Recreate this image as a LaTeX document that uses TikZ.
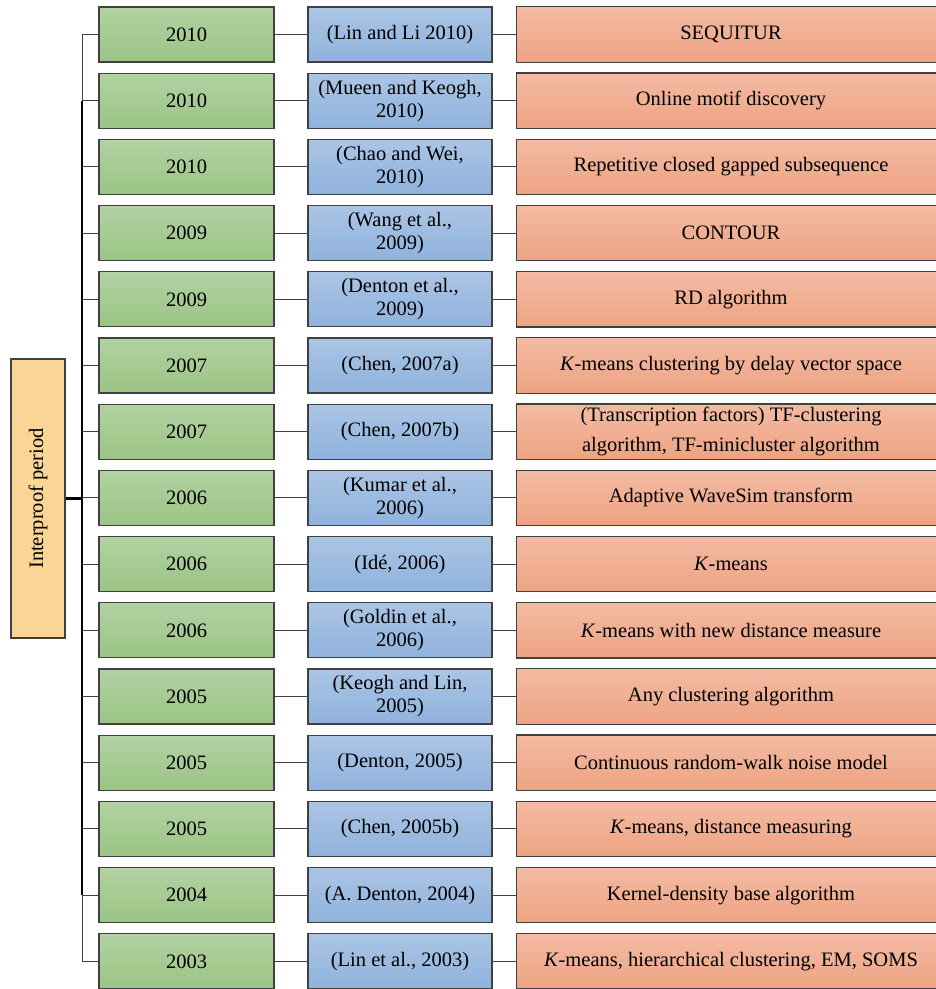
\documentclass[tikz,border=0pt]{standalone}
\usepackage{fontspec}
\setmainfont{Liberation Serif}
\usepackage{tikz}
\usetikzlibrary{backgrounds}
\definecolor{gtop}{RGB}{178,210,162}
\definecolor{gbot}{RGB}{155,196,133}
\definecolor{btop}{RGB}{171,197,229}
\definecolor{bbot}{RGB}{143,178,220}
\definecolor{otop}{RGB}{243,187,163}
\definecolor{obot}{RGB}{238,163,131}
\definecolor{lfill}{RGB}{250,214,150}
\definecolor{edge}{RGB}{64,64,64}

\begin{document}
\begin{tikzpicture}[x=1pt,y=-1pt,
    box/.style={draw=edge,line width=1.3pt,minimum height=55pt,inner sep=2pt,align=center},
    yr/.style={box,minimum width=175pt,top color=gtop,bottom color=gbot,font=\fontsize{20.5}{23}\selectfont},
    cite/.style={box,minimum width=184pt,top color=btop,bottom color=bbot,font=\fontsize{20.5}{23}\selectfont},
    meth/.style={minimum width=428pt,minimum height=55pt,inner sep=2pt,align=center,font=\fontsize{20.5}{30}\selectfont},
    methbox/.style={draw=edge,line width=1.3pt,top color=otop,bottom color=obot},
    branch/.style={draw=edge,line width=1pt},
    trunk/.style={draw=black,line width=1.6pt}]
    \useasboundingbox (0,0) rectangle (936,989);
        % period box on the left
        \node[box,fill=lfill,minimum width=279pt,minimum height=54pt,rotate=90,font=\fontsize{20.5}{23}\selectfont] (period) at (38,498.5) {Interproof period};
        % rows: year, reference, method
        \node[yr] (g1) at (186.5,34.5) {2010}; \node[cite] (b1) at (400,34.5) {(Lin and Li 2010)}; \node[meth] (o1) at (731,34.5) {SEQUITUR};
        \node[yr] (g2) at (186.5,100.7) {2010}; \node[cite] (b2) at (400,100.7) {(Mueen and Keogh,\\2010)}; \node[meth] (o2) at (731,100.7) {Online motif discovery};
        \node[yr] (g3) at (186.5,166.9) {2010}; \node[cite] (b3) at (400,166.9) {(Chao and Wei,\\2010)}; \node[meth] (o3) at (731,166.9) {Repetitive closed gapped subsequence};
        \node[yr] (g4) at (186.5,233.1) {2009}; \node[cite] (b4) at (400,233.1) {(Wang et al.,\\2009)}; \node[meth] (o4) at (731,233.1) {CONTOUR};
        \node[yr] (g5) at (186.5,299.3) {2009}; \node[cite] (b5) at (400,299.3) {(Denton et al.,\\2009)}; \node[meth] (o5) at (731,299.3) {RD algorithm};
        \node[yr] (g6) at (186.5,365.5) {2007}; \node[cite] (b6) at (400,365.5) {(Chen, 2007a)}; \node[meth] (o6) at (731,365.5) {\textit{K}-means clustering by delay vector space};
        \node[yr] (g7) at (186.5,431.7) {2007}; \node[cite] (b7) at (400,431.7) {(Chen, 2007b)}; \node[meth] (o7) at (731,431.7) {(Transcription factors) TF-clustering\\algorithm, TF-minicluster algorithm};
        \node[yr] (g8) at (186.5,497.9) {2006}; \node[cite] (b8) at (400,497.9) {(Kumar et al.,\\2006)}; \node[meth] (o8) at (731,497.9) {Adaptive WaveSim transform};
        \node[yr] (g9) at (186.5,564.1) {2006}; \node[cite] (b9) at (400,564.1) {(Idé, 2006)}; \node[meth] (o9) at (731,564.1) {\textit{K}-means};
        \node[yr] (g10) at (186.5,630.3) {2006}; \node[cite] (b10) at (400,630.3) {(Goldin et al.,\\2006)}; \node[meth] (o10) at (731,630.3) {\textit{K}-means with new distance measure};
        \node[yr] (g11) at (186.5,696.5) {2005}; \node[cite] (b11) at (400,696.5) {(Keogh and Lin,\\2005)}; \node[meth] (o11) at (731,696.5) {Any clustering algorithm};
        \node[yr] (g12) at (186.5,762.7) {2005}; \node[cite] (b12) at (400,762.7) {(Denton, 2005)}; \node[meth] (o12) at (731,762.7) {Continuous random-walk noise model};
        \node[yr] (g13) at (186.5,828.9) {2005}; \node[cite] (b13) at (400,828.9) {(Chen, 2005b)}; \node[meth] (o13) at (731,828.9) {\textit{K}-means, distance measuring};
        \node[yr] (g14) at (186.5,895.1) {2004}; \node[cite] (b14) at (400,895.1) {(A. Denton, 2004)}; \node[meth] (o14) at (731,895.1) {Kernel-density base algorithm};
        \node[yr] (g15) at (186.5,961.3) {2003}; \node[cite] (b15) at (400,961.3) {(Lin et al., 2003)}; \node[meth] (o15) at (731,961.3) {\textit{K}-means, hierarchical clustering, EM, SOMS};
        % orange boxes run past the right edge, cut off there
        \begin{scope}[on background layer]
            \clip (0,0) rectangle (936,989);
            \foreach \r in {1,...,15}{
                \path[methbox] (o\r.north west) rectangle ([xshift=40pt]o\r.south east);
            }
        \end{scope}
        % connectors
        \coordinate (tt) at (82,34.5);
        \coordinate (tb) at (82,961.3);
        \draw[branch] (tt) -- (tt |- g2.west);
        \draw[trunk] (tt |- g2.west) -- (tt |- g14.west);
        \draw[branch] (tt |- g14.west) -- (tb);
        \draw[trunk,line width=2.6pt] (period.south) -- (period.south -| tt);
        \foreach \r in {1,...,15}{
            \draw[branch] (g\r.west -| tt) -- (g\r.west) (g\r) -- (b\r) (b\r) -- (o\r);
        }
    \end{tikzpicture}
\end{document}
